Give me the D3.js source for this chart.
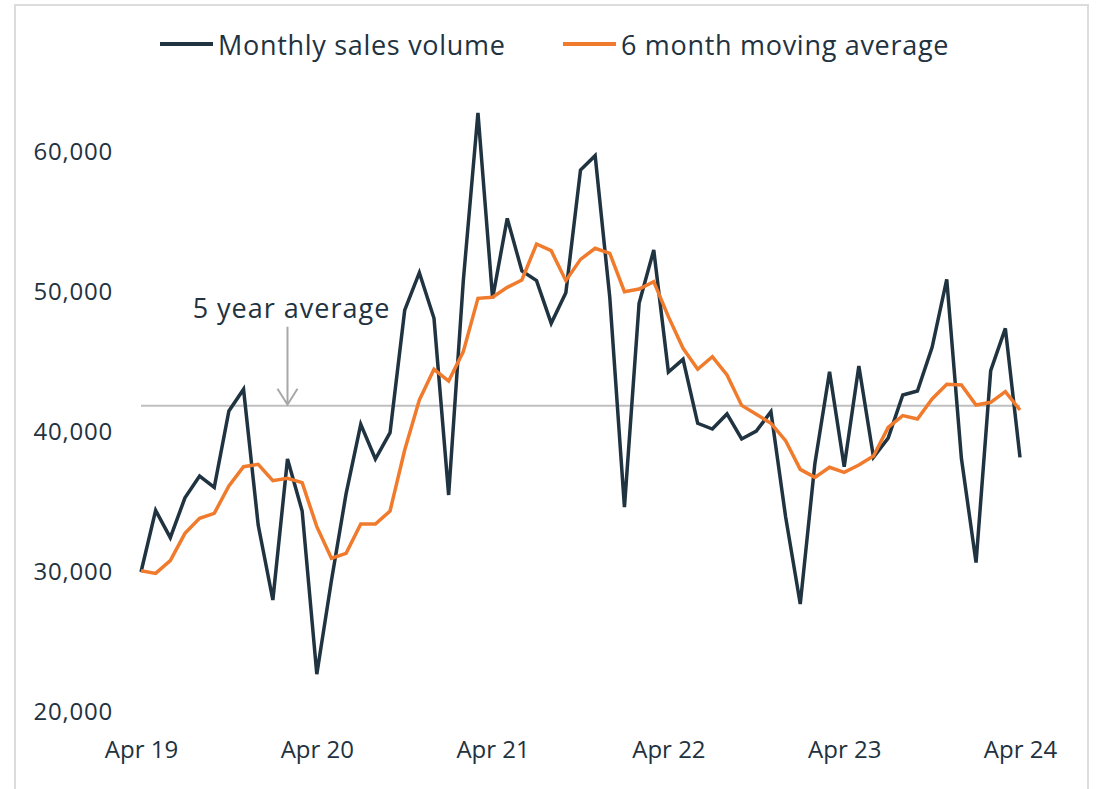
<!DOCTYPE html>
<html>
<head>
<meta charset="utf-8">
<script src="https://cdn.jsdelivr.net/npm/d3@7"></script>
<style>
  body { margin: 0; background: #fff; }
  svg text { font-family: "Open Sans", sans-serif; fill: #22323f; }
</style>
</head>
<body>
<svg id="chart" width="1097" height="789"></svg>
<script>
// monthly data, Apr 2019 .. Apr 2024 (61 months)
var salesVolume = [
  30000, 34400, 32450, 35300, 36850, 36050, 41500, 43050, 33350, 28000, 38070, 34360,
  22700, 29400, 35600, 40550, 38070, 39950, 48700, 51380, 48120, 35500, 50800, 62800,
  49550, 55260, 51500, 50810, 47760, 49950, 58710, 59740, 49600, 34640, 49190, 53000,
  44280, 45190, 40620, 40210, 41290, 39500, 40070, 41450, 33950, 27710, 37760, 44310,
  37520, 44710, 38200, 39560, 42640, 42930, 46050, 50900, 38120, 30670, 44380, 47400,
  38190
];
var movingAverage = [
  30090, 29900, 30810, 32760, 33830, 34190, 36140, 37520, 37690, 36520, 36690, 36380,
  33240, 30980, 31330, 33430, 33430, 34360, 38710, 42290, 44480, 43640, 45740, 49550,
  49620, 50330, 50860, 53430, 52950, 50810, 52330, 53120, 52760, 50020, 50210, 50740,
  48240, 45980, 44480, 45380, 44070, 41900, 41260, 40620, 39380, 37330, 36760, 37480,
  37120, 37640, 38290, 40330, 41170, 40930, 42360, 43410, 43360, 41930, 42120, 42880,
  41570
];
var fiveYearAverage = 41880;
var xTickIndex = [0, 12, 24, 36, 48, 60];
var xTickLabels = ["Apr 19", "Apr 20", "Apr 21", "Apr 22", "Apr 23", "Apr 24"];
var yTicks = [20000, 30000, 40000, 50000, 60000];
var seriesNames = ["Monthly sales volume", "6 month moving average"];

var dark = "#1f3340",
    orange = "#f07b2c";

var svg = d3.select("#chart");

// light frame
svg.append("rect")
    .attr("x", 15).attr("y", 5)
    .attr("width", 1073).attr("height", 800)
    .attr("fill", "none")
    .attr("stroke", "#dcdcdc")
    .attr("stroke-width", 2);

var x = d3.scaleLinear()
    .domain([0, salesVolume.length - 1])
    .range([141, 1020]);

var y = d3.scaleLinear()
    .domain([20000, 60000])
    .range([712, 152]);

// y axis labels only
var yAxis = d3.axisLeft(y)
    .tickValues(yTicks)
    .tickFormat(d3.format(","))
    .tickSize(0)
    .tickPadding(0);

var yg = svg.append("g")
    .attr("transform", "translate(113,0)")
    .call(yAxis);
yg.select(".domain").remove();
yg.selectAll("text")
    .attr("font-size", 24)
    .attr("letter-spacing", 0.8)
    .attr("font-family", null)
    .attr("fill", null);

// x axis labels only
var xAxis = d3.axisBottom(x)
    .tickValues(xTickIndex)
    .tickFormat(function (d, i) { return xTickLabels[i]; })
    .tickSize(0)
    .tickPadding(0);

var xg = svg.append("g")
    .attr("transform", "translate(0,741)")
    .call(xAxis);
xg.select(".domain").remove();
xg.selectAll("text")
    .attr("font-size", 24)
    .attr("font-family", null)
    .attr("fill", null);

// 5 year average reference line
svg.append("line")
    .attr("x1", x(0)).attr("x2", x(salesVolume.length - 1))
    .attr("y1", y(fiveYearAverage)).attr("y2", y(fiveYearAverage))
    .attr("stroke", "#bfbfbf")
    .attr("stroke-width", 2);

var line = d3.line()
    .x(function (d, i) { return x(i); })
    .y(function (d) { return y(d); });

svg.append("path")
    .datum(salesVolume)
    .attr("d", line)
    .attr("fill", "none")
    .attr("stroke", dark)
    .attr("stroke-width", 3.5);

svg.append("path")
    .datum(movingAverage)
    .attr("d", line)
    .attr("fill", "none")
    .attr("stroke", orange)
    .attr("stroke-width", 3.5);

// annotation with arrow down onto the average line
var ax = x(10),
    ay = y(fiveYearAverage);
svg.append("path")
    .attr("d", "M" + ax + "," + (ay - 79) + "V" + (ay - 1) +
               "M" + (ax - 10) + "," + (ay - 17) + "L" + ax + "," + (ay - 1) + "L" + (ax + 10) + "," + (ay - 17))
    .attr("fill", "none")
    .attr("stroke", "#a8a8a8")
    .attr("stroke-width", 2);

svg.append("text")
    .attr("x", ax + 4)
    .attr("y", ay - 88)
    .attr("text-anchor", "middle")
    .attr("font-size", 27)
    .attr("letter-spacing", 1)
    .text("5 year average");

// legend
var legend = svg.append("g");
var legendX = [160, 563];
[dark, orange].forEach(function (c, i) {
  legend.append("line")
      .attr("x1", legendX[i]).attr("x2", legendX[i] + 53)
      .attr("y1", 44).attr("y2", 44)
      .attr("stroke", c)
      .attr("stroke-width", 4);
  legend.append("text")
      .attr("x", legendX[i] + 58)
      .attr("y", 55)
      .attr("font-size", 27)
      .attr("letter-spacing", 0.7)
      .text(seriesNames[i]);
});
</script>
</body>
</html>
